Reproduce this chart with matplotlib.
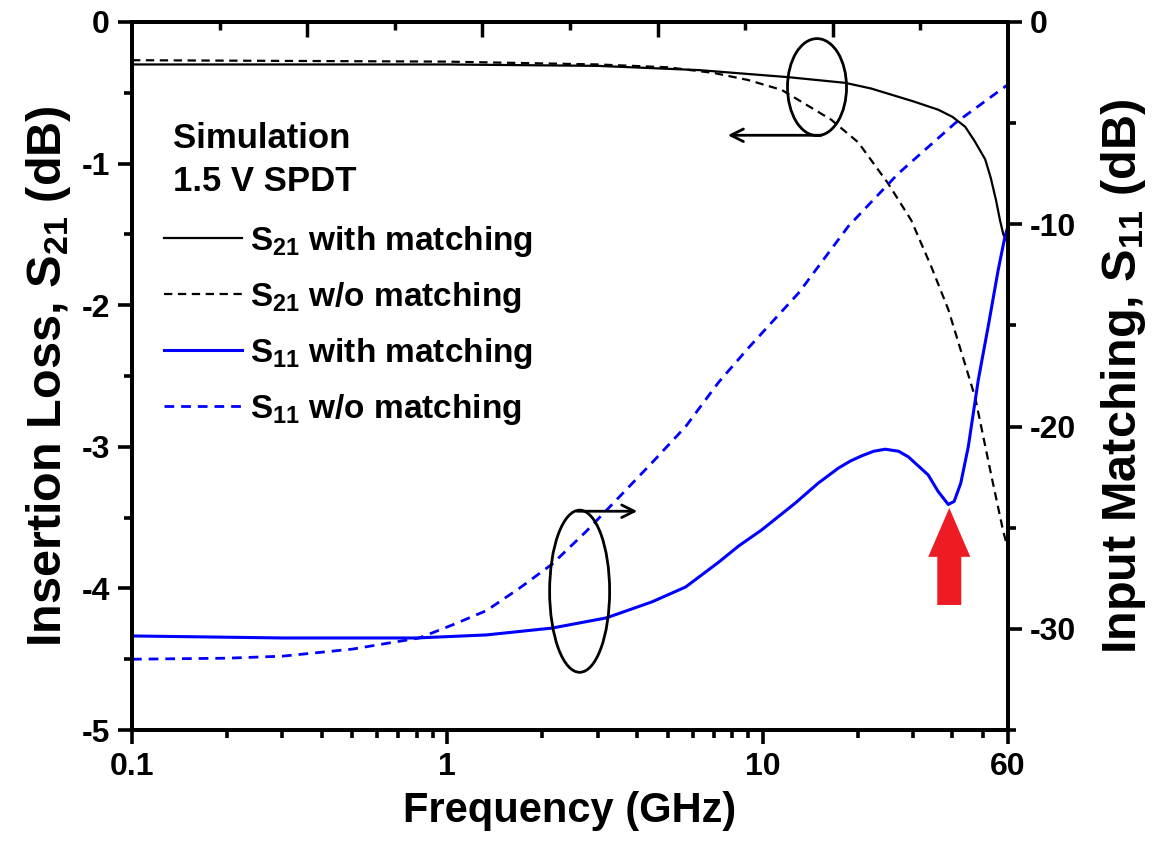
import numpy as np
import matplotlib
matplotlib.use("Agg")
import matplotlib.pyplot as plt
from matplotlib.patches import Ellipse, FancyArrow
from matplotlib.ticker import FixedLocator, NullFormatter

plt.rcParams['font.family'] = ['Liberation Sans', 'DejaVu Sans']
plt.rcParams['font.weight'] = 'bold'
plt.rcParams['mathtext.fontset'] = 'custom'
plt.rcParams['mathtext.rm'] = 'Liberation Sans:bold'
plt.rcParams['mathtext.default'] = 'rm'
plt.rcParams['lines.scale_dashes'] = False
plt.rcParams['axes.unicode_minus'] = False

# S21 with matching (left axis, dB)
f_s21_m = [0.1, 1, 3, 6.3, 12.1, 18.3, 22.1, 30.0, 36.1, 40.0, 43.9, 47.0, 50.8, 52.9, 55.0, 56.6, 58.0, 60]
s21_m = [-0.30, -0.30, -0.31, -0.34, -0.39, -0.43, -0.47, -0.56, -0.62, -0.67, -0.74, -0.84, -0.97,
         -1.10, -1.26, -1.40, -1.50, -1.56]

# S21 w/o matching
f_s21_wo = [0.1, 1, 3, 5, 7, 9, 11.5, 16.5, 20.1, 25.0, 29.6, 34.3, 38.8, 43.9, 47.2, 53.1, 58.0, 60]
s21_wo = [-0.27, -0.28, -0.30, -0.32, -0.36, -0.41, -0.48, -0.69, -0.85, -1.14, -1.40, -1.73, -2.03,
          -2.42, -2.65, -3.20, -3.60, -3.72]

# S11 with matching (right axis, dB)
f_s11_m = [0.1, 0.3, 0.8, 1.33, 2.15, 3.19, 4.45, 5.7, 7.26, 8.4, 9.93, 12.7, 15.0, 17.4, 19.0, 20.6,
           22.5, 24.5, 27.0, 29.0, 33.5, 36.0, 38.8, 40.5, 42.5, 44.9, 48.3, 52.0, 55.8, 58.7, 60]
s11_m = [-30.35, -30.45, -30.45, -30.3, -29.96, -29.46, -28.67, -27.93, -26.7, -25.9, -25.11, -23.78,
         -22.8, -22.05, -21.7, -21.45, -21.22, -21.12, -21.22, -21.5, -22.39, -23.2, -23.85, -23.7,
         -22.8, -21.0, -17.7, -15.0, -12.3, -10.6, -10.1]

# S11 w/o matching
f_s11_wo = [0.1, 0.2, 0.3, 0.5, 0.815, 1.04, 1.33, 1.69, 2.15, 2.75, 3.5, 4.45, 5.7, 7.26, 9.03,
            13.0, 18.7, 26.9, 40.8, 58.7, 60]
s11_wo = [-31.5, -31.45, -31.35, -31.0, -30.45, -29.8, -29.1, -28.0, -26.8, -25.2, -23.5, -21.8,
          -20.0, -17.8, -16.1, -13.4, -10.1, -7.5, -5.0, -3.2, -3.1]

x_ticks = [0.1, 1, 10, 60]
x_labels = ['0.1', '1', '10', '60']

fig = plt.figure(figsize=(11.63, 8.42), dpi=100)
ax = fig.add_axes([0.1135, 0.133, 0.7532, 0.8409])
ax2 = ax.twinx()
ax3 = ax.twiny()

l1, = ax.plot(f_s21_m, s21_m, color='black', lw=1.6, label=r'S$_{21}$ with matching')
l2, = ax.plot(f_s21_wo, s21_wo, color='black', lw=1.6, dashes=(6, 4), label=r'S$_{21}$ w/o matching')
l3, = ax2.plot(f_s11_m, s11_m, color='#0000ff', lw=2.2, label=r'S$_{11}$ with matching')
l4, = ax2.plot(f_s11_wo, s11_wo, color='#0000ff', lw=2.0, dashes=(7, 5), label=r'S$_{11}$ w/o matching')

ax.set_xscale('log')
ax.set_xlim(0.1, 60)
ax.set_ylim(-5, 0)
ax2.set_ylim(-35, 0)

ax.xaxis.set_major_locator(FixedLocator(x_ticks))
ax.set_xticklabels(x_labels)
minors = [m * d for d in (0.1, 1, 10) for m in range(2, 10) if m * d < 60]
ax.xaxis.set_minor_locator(FixedLocator(minors))
ax.xaxis.set_minor_formatter(NullFormatter())

ax.set_yticks([0, -1, -2, -3, -4, -5])
ax.set_yticks(np.arange(-4.5, 0, 1.0), minor=True)
ax2.set_yticks([0, -10, -20, -30])
ax2.set_yticks([-5, -15, -25, -35], minor=True)

ax3.set_xlim(0, 10)
ax3.set_xticks([2, 4, 6, 8])
ax3.set_xticks([1, 3, 5, 7, 9], minor=True)
ax3.tick_params(axis='x', which='both', direction='in', labeltop=False, width=2.5)
ax3.tick_params(axis='x', which='major', length=11)
ax3.tick_params(axis='x', which='minor', length=6)

for a in (ax, ax2, ax3):
    for s in a.spines.values():
        s.set_linewidth(2.6)
ax.tick_params(which='both', direction='out', width=2.6, labelsize=23, pad=6)
ax.tick_params(which='major', length=10)
ax.tick_params(which='minor', length=6)
ax2.tick_params(which='both', direction='out', width=2.6, labelsize=23, pad=6)
ax2.tick_params(which='major', length=10)
ax2.tick_params(which='minor', length=6)

ax.set_xlabel('Frequency (GHz)', fontsize=30, fontweight='bold', labelpad=6)
ax.set_ylabel(r'Insertion Loss, S$_{21}$ (dB)', fontsize=35, fontweight='bold', labelpad=6)
ax2.set_ylabel(r'Input Matching, S$_{11}$ (dB)', fontsize=35, fontweight='bold', labelpad=16)

# legend block
ax3.text(0.047, 0.805, 'Simulation\n1.5 V SPDT', transform=ax.transAxes, fontsize=25,
         fontweight='bold', va='center', ha='left', linespacing=1.36)
ax3.legend(handles=[l1, l2, l3, l4], loc='upper left', bbox_to_anchor=(0.021, 0.734),
           frameon=False, fontsize=24, handlelength=2.35, handletextpad=0.25,
           labelspacing=0.63, borderaxespad=0)

# annotations
ax3.add_patch(Ellipse((0.782, 0.908), 0.0674, 0.137, transform=ax.transAxes,
                      fill=False, ec='black', lw=2.0))
ax3.annotate('', xy=(0.677, 0.840), xytext=(0.790, 0.840), xycoords='axes fraction',
             arrowprops=dict(arrowstyle='->,head_length=0.9,head_width=0.45', lw=2.0, color='black'))
ax3.add_patch(Ellipse((0.511, 0.196), 0.0685, 0.229, transform=ax.transAxes,
                      fill=False, ec='black', lw=2.0))
ax3.annotate('', xy=(0.580, 0.309), xytext=(0.505, 0.309), xycoords='axes fraction',
             arrowprops=dict(arrowstyle='->,head_length=0.9,head_width=0.45', lw=2.0, color='black'))
ax3.add_patch(FancyArrow(0.933, 0.1766, 0, 0.137, width=0.0274, head_width=0.048,
                         head_length=0.069, length_includes_head=True, transform=ax.transAxes,
                         color='#ed1c24', ec='none'))

fig.savefig('out.png', dpi=100)
